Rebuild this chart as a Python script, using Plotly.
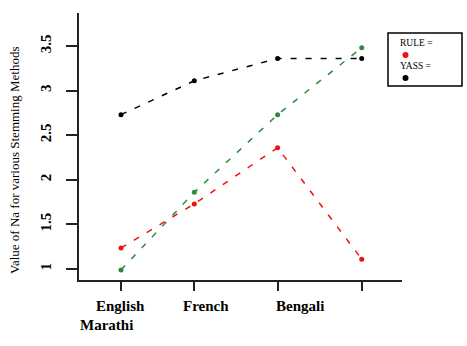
import plotly.graph_objects as go

# Data
x_pos = [1.0, 1.88, 2.88, 3.89]
yass = [2.73, 3.11, 3.36, 3.36]
rule = [1.235, 1.73, 2.36, 1.11]
green = [0.99, 1.86, 2.73, 3.48]
tick_labels = ["English", "French", "Bengali", "Marathi"]
yticks = [1, 1.5, 2, 2.5, 3, 3.5]

W, H = 467, 346
L, R, T, B = 79, 402, 13, 280
SERIF = "Liberation Serif, Times New Roman, Times, serif"

fig = go.Figure()
series = [(yass, "black"), (rule, "#ee1111"), (green, "#2e8b3e")]
for ys, col in series:
    fig.add_trace(go.Scatter(
        x=x_pos, y=ys, mode="lines+markers",
        line=dict(color=col, width=1.5, dash="6px,9px"),
        marker=dict(color=col, size=5),
        showlegend=False, hoverinfo="skip"))

fig.update_layout(
    width=W, height=H,
    margin=dict(l=L, r=W - R, t=T, b=H - B, pad=0),
    plot_bgcolor="white", paper_bgcolor="white",
    font=dict(family=SERIF, color="black"),
    xaxis=dict(range=[1 - (121 - L) / 83.3, 1 + (R - 121) / 83.3],
               tickvals=x_pos, ticktext=["", "", "", ""],
               ticks="outside", ticklen=9, tickwidth=1.5, tickcolor="#222",
               showline=True, linecolor="#222", linewidth=1.5,
               showgrid=False, zeroline=False),
    yaxis=dict(range=[1 - (B - 269) / 89.2, 1 + (269 - T) / 89.2],
               tickvals=yticks,
               ticktext=["<b>" + t + "</b>" for t in ["1", "1.5", "2", "2.5", "3", "3.5"]],
               tickangle=-90, tickfont=dict(size=15, family=SERIF),
               ticks="outside", ticklen=11, tickwidth=1.5, tickcolor="#222",
               ticklabelstandoff=9,
               showline=True, linecolor="#222", linewidth=1.5,
               showgrid=False, zeroline=False),
)

def px(xp):
    return (xp - L) / (R - L)

def py(yp):
    return 1 - (yp - T) / (B - T)

# x tick labels (as in reference, shifted)
label_pos = [(120, 306), (206, 306), (300, 306), (106, 325)]
for txt, (lx, ly) in zip(tick_labels, label_pos):
    fig.add_annotation(x=px(lx), y=py(ly), xref="paper", yref="paper",
                       text="<b>" + txt + "</b>", showarrow=False,
                       font=dict(size=15, family=SERIF),
                       xanchor="center", yanchor="middle")

# y axis title
fig.add_annotation(x=px(14), y=py(161), xref="paper", yref="paper",
                   text="Value of Na for various Stemming Methods", textangle=-90,
                   showarrow=False, font=dict(size=13, family=SERIF),
                   xanchor="center", yanchor="middle")

# legend box
fig.add_shape(type="rect", xref="paper", yref="paper",
              x0=px(388), x1=px(462), y0=py(86), y1=py(33),
              line=dict(color="black", width=1.5), fillcolor="white")
fig.add_annotation(x=px(398), y=py(43), xref="paper", yref="paper", text="RULE =",
                   showarrow=False, font=dict(size=9.5, family=SERIF),
                   xanchor="left", yanchor="middle")
fig.add_annotation(x=px(398), y=py(66), xref="paper", yref="paper", text="YASS =",
                   showarrow=False, font=dict(size=9.5, family=SERIF),
                   xanchor="left", yanchor="middle")
for cy, col in [(55, "#ee1111"), (78, "black")]:
    fig.add_shape(type="circle", xref="paper", yref="paper",
                  x0=px(402.5), x1=px(408.5), y0=py(cy + 3), y1=py(cy - 3),
                  line=dict(color=col, width=0), fillcolor=col)

fig.write_html("out.html")
